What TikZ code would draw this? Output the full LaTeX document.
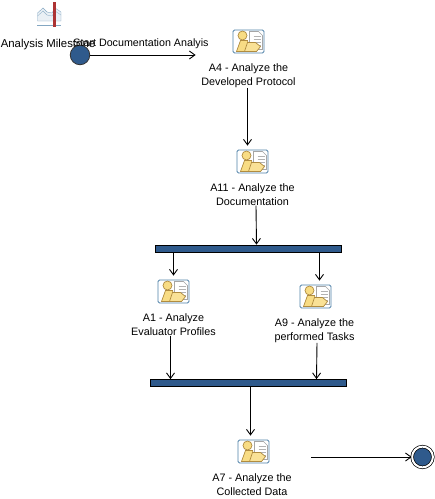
\documentclass[tikz,border=0pt]{standalone}
\usepackage{fontspec}
\setmainfont{Liberation Sans}
\usetikzlibrary{arrows.meta,positioning,calc}

\definecolor{barblue}{HTML}{2F5A8C}
\definecolor{framblue}{HTML}{4F81A8}
\definecolor{skin}{HTML}{F8DC84}
\definecolor{skinline}{HTML}{B08C40}

\tikzset{
  >={Straight Barb[length=5.5pt,width=8pt]},
  link/.style={->,line width=0.9pt},
  flowbar/.style={draw=black,line width=0.7pt,fill=barblue,minimum width=#1,minimum height=7pt,inner sep=0pt},
  startdot/.style={circle,draw=black!80,line width=0.8pt,fill=barblue,minimum size=19.5pt,inner sep=0pt},
  enddot/.style={circle,draw=black,line width=0.7pt,double=white,double distance=2pt,fill=barblue,minimum size=20.8pt,inner sep=0pt},
  actlabel/.style={align=center,font=\fontsize{10.8}{14}\selectfont,inner sep=0pt},
  activity/.style={draw=framblue,line width=0.8pt,fill=white,rounded corners=1.5pt,minimum width=31pt,minimum height=23pt,inner sep=0pt,
    path picture={
      \begin{scope}[shift={(path picture bounding box.center)},sharp corners,line width=0.7pt]
        % sheet of paper
        \draw[gray!70,fill=white] (1,-10) -- (10,-10) -- (14,-6) -- (14,8) -- (1,8) -- cycle;
        \foreach \i in {-5,-2,1,4}{
          \draw[gray!60] (5,\i) -- (12,\i);
        }
        % head and shoulders
        \draw[skinline,fill=skin] (-6,-6) circle (4.5);
        \draw[skinline,fill=skin] (-12,10) -- (-8,-1) -- (-1,-1) -- (0,3) -- (-3,10) -- cycle;
        % folder in front
        \draw[skinline,fill=skin!85!white] (-4,10) -- (-1,1) -- (7,1) -- (12,5) -- (8,10) -- cycle;
      \end{scope}
    }},
}

\begin{document}
\begin{tikzpicture}[x=1pt,y=-1pt]
  \useasboundingbox (0,0) rectangle (435,499);

  % milestone icon
  \node[inner sep=0pt,minimum width=25pt,minimum height=25pt] (milestone) at (49,14.5) {};
  \draw[framblue!70,fill=framblue!12] (37.5,21) -- (37.5,13) -- (43,8) -- (47,12) -- (52,13) -- (55,8) -- (61,12) -- (61,21) -- cycle;
  \draw[framblue!60] (37.5,16) -- (43,11) -- (47,15) -- (52,16) -- (55,11) -- (61,15);
  \draw[framblue!70,line width=1pt] (37,25) -- (61,25);
  \fill[red!60!black!80] (53,2) rectangle (56,27);
  \node[actlabel,font=\fontsize{11.4}{14}\selectfont] (milestonetext) at (48,44.5) {Analysis Milestone};

  \node[startdot] (start) at (80,55) {};
  \node[actlabel,font=\fontsize{10.7}{14}\selectfont] (starttext) at (141,44) {Start Documentation Analyis};

  \node[activity] (a4) at (248.5,41.5) {};
  \node[actlabel,below=10pt of a4.south] (a4text) {A4 - Analyze the\\Developed Protocol};

  \node[activity] (a11) at (252.5,161.5) {};
  \node[actlabel,below=10pt of a11.south] (a11text) {A11 - Analyze the\\Documentation};

  \node[flowbar=186pt] (fork) at (248,248.5) {};

  \node[activity] (a1) at (173.5,291.5) {};
  \node[actlabel,below=10pt of a1.south] (a1text) {A1 - Analyze\\Evaluator Profiles};

  \node[activity] (a9) at (315.5,296.5) {};
  \node[actlabel,below=10pt of a9.south,xshift=-1pt] (a9text) {A9 - Analyze the\\performed Tasks};

  \node[flowbar=196pt] (join) at (248,383) {};

  \node[activity] (a7) at (253.5,451.5) {};
  \node[actlabel,below=10pt of a7.south,xshift=-1.5pt] (a7text) {A7 - Analyze the\\Collected Data};

  \node[enddot] (finish) at (422.5,457) {};

  \draw[link,shorten >=37pt] (start.east) -- (start.east -| a4.west);
  \draw[link,shorten >=4pt] ([xshift=-1pt]a4.south |- a4text.south) -- ([xshift=-1pt]a4.north |- a11.north);
  \draw[link] ([xshift=3.5pt]a11text.south) -- ([xshift=8.5pt]fork.north);
  \draw[link] (fork.south -| a1.north) -- ([yshift=4pt]a1.north);
  \draw[link] ([xshift=4pt]fork.south -| a9.north) -- ([xshift=4pt,yshift=4pt]a9.north);
  \draw[link] ([xshift=-3pt]a1text.south) -- ([xshift=-77.5pt]join.north);
  \draw[link] ([xshift=2.5pt]a9text.south) -- ([xshift=68.5pt]join.north);
  \draw[link] ([xshift=2.5pt]join.south) -- ([xshift=-3pt,yshift=4pt]a7.north);
  \draw[link] ([xshift=42pt]a7.east |- finish.west) -- (finish.west);
\end{tikzpicture}
\end{document}
